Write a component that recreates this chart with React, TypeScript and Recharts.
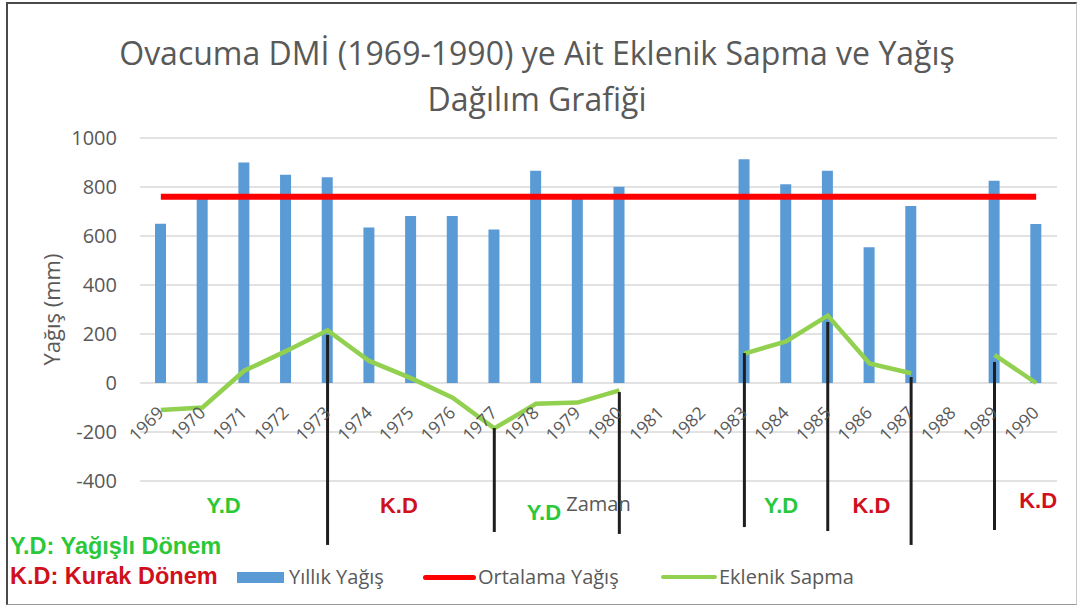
import {
  Bar,
  CartesianGrid,
  ComposedChart,
  Line,
  ReferenceDot,
  ReferenceLine,
  XAxis,
  YAxis,
} from 'recharts';

const YEARS = [
  '1969', '1970', '1971', '1972', '1973', '1974', '1975', '1976', '1977', '1978', '1979',
  '1980', '1981', '1982', '1983', '1984', '1985', '1986', '1987', '1988', '1989', '1990',
];
// Yıllık yağış (mm); boş yıllar çizilmiyor
const ANNUAL_RAIN = [
  650, 752, 900, 850, 840, 635, 682, 682, 627, 866, 753,
  801, null, null, 913, 811, 866, 554, 722, null, 826, 649,
];
const MEAN_RAIN = [
  760, 760, 760, 760, 760, 760, 760, 760, 760, 760, 760,
  760, 760, 760, 760, 760, 760, 760, 760, 760, 760, 760,
];
const CUMULATIVE_DEV = [
  -110, -100, 50, 130, 215, 90, 20, -60, -185, -85, -80,
  -30, null, null, 120, 170, 275, 80, 40, null, 115, 0,
];
const Y_TICKS = [-400, -200, 0, 200, 400, 600, 800, 1000];

// dönem sınırları (siyah çizgiler): yıl, üst ve alt uç
const BREAK_YEARS = ['1973', '1977', '1980', '1983', '1985', '1987', '1989'];
const BREAK_TOPS = [196, -184, -37, 122, 249, 24, 86];
const BREAK_BOTTOMS = [-661, -608, -616, -588, -604, -661, -600];

// dönem etiketleri
const PERIOD_TEXTS = ['Y.D', 'K.D', 'Y.D', 'Y.D', 'K.D', 'K.D'];
const PERIOD_YEARS = ['1970', '1975', '1978', '1984', '1986', '1990'];
const PERIOD_LEVELS = [-498, -498, -527, -498, -498, -478];
const PERIOD_SHIFTS = [21, -12, 8, -5, 2, 2];

const SERIES_NAMES = ['Yıllık Yağış', 'Ortalama Yağış', 'Eklenik Sapma'];

const GREEN_TEXT = '#2bc83a';
const RED_TEXT = '#d0101c';
const AXIS_TEXT = '#595959';
const FONT = '"Open Sans", sans-serif';
const BOLD_FONT = '"Liberation Sans", Arial, sans-serif';

const Y_MIN = -400;
const Y_MAX = 1000;
const PLOT_TOP = 138;
const PLOT_BOTTOM = 481;

const data = YEARS.map((year, i) => ({
  year,
  rain: ANNUAL_RAIN[i],
  mean: MEAN_RAIN[i],
  dev: CUMULATIVE_DEV[i],
}));

/** Year labels sit on the zero line, rotated like the Excel original. */
function YearTick(props: any) {
  const { x, y, payload } = props;
  const plotH = PLOT_BOTTOM - PLOT_TOP;
  const zeroY = y - (plotH * (0 - Y_MIN)) / (Y_MAX - Y_MIN);
  const bx = x + 4;
  const by = zeroY + 31;
  return (
    <text
      x={bx}
      y={by}
      textAnchor="end"
      transform={`rotate(-45 ${bx} ${by})`}
      fontSize={17.5}
      fontFamily={FONT}
      fill={AXIS_TEXT}
    >
      {payload.value}
    </text>
  );
}

function YTitle(props: any) {
  const { viewBox } = props;
  const cx = viewBox.x - 29;
  const cy = viewBox.y + viewBox.height / 2;
  return (
    <text
      x={cx}
      y={cy}
      textAnchor="middle"
      dominantBaseline="central"
      transform={`rotate(-90 ${cx} ${cy})`}
      fontSize={22}
      fontFamily={FONT}
      fill={AXIS_TEXT}
    >
      Yağış (mm)
    </text>
  );
}

function XTitle(props: any) {
  const { viewBox } = props;
  return (
    <text
      x={viewBox.x + viewBox.width / 2}
      y={viewBox.y + 22}
      textAnchor="middle"
      dominantBaseline="central"
      fontSize={20}
      fontFamily={FONT}
      fill={AXIS_TEXT}
    >
      Zaman
    </text>
  );
}

function PeriodText(props: any) {
  const { viewBox, text, color, shift } = props;
  const cx = viewBox.x + (viewBox.width || 0) / 2 + shift;
  const cy = viewBox.y + (viewBox.height || 0) / 2;
  return (
    <text
      x={cx}
      y={cy}
      textAnchor="middle"
      dominantBaseline="central"
      fontSize={22}
      fontWeight="bold"
      fontFamily={BOLD_FONT}
      fill={color}
    >
      {text}
    </text>
  );
}

function LegendRow() {
  const item = { position: 'absolute' as const, top: 563, fontSize: 20, fontFamily: FONT, color: AXIS_TEXT, lineHeight: '27px' };
  return (
    <>
      <div style={{ position: 'absolute', left: 237, top: 572, width: 47, height: 11, background: '#5b9bd5' }} />
      <div style={{ ...item, left: 289 }}>{SERIES_NAMES[0]}</div>
      <div style={{ position: 'absolute', left: 423, top: 575, width: 53, height: 5, background: '#ff0000', borderRadius: 3 }} />
      <div style={{ ...item, left: 478 }}>{SERIES_NAMES[1]}</div>
      <div style={{ position: 'absolute', left: 661, top: 575, width: 56, height: 4, background: '#92d050', borderRadius: 2 }} />
      <div style={{ ...item, left: 719 }}>{SERIES_NAMES[2]}</div>
    </>
  );
}

export default function App() {
  const keyText = { position: 'absolute' as const, left: 10, fontSize: 23.5, fontWeight: 'bold' as const, fontFamily: BOLD_FONT, lineHeight: '27px', whiteSpace: 'nowrap' as const };
  return (
    <div style={{ position: 'relative', width: 1078, height: 605, background: '#fff', overflow: 'hidden' }}>
      <style>{'body{margin:0}'}</style>
      <div
        style={{
          position: 'absolute',
          left: 6,
          top: 2,
          width: 1068,
          height: 600,
          borderTop: '2px solid #4a4a4a',
          borderLeft: '2px solid #4a4a4a',
          borderRight: '1px solid #c8c8c8',
          borderBottom: '1px solid #9a9a9a',
        }}
      />
      <div style={{ position: 'absolute', left: 0, top: 37, width: 1074, textAlign: 'center', fontFamily: FONT, fontSize: 32, lineHeight: '32px', color: AXIS_TEXT }}>
        Ovacuma DMİ (1969-1990) ye Ait Eklenik Sapma ve Yağış
      </div>
      <div style={{ position: 'absolute', left: 0, top: 83, width: 1074, textAlign: 'center', fontFamily: FONT, fontSize: 32, lineHeight: '32px', color: AXIS_TEXT }}>
        Dağılım Grafiği
      </div>
      <div style={{ position: 'absolute', left: 0, top: 0 }}>
        <ComposedChart
          width={1078}
          height={605}
          data={data}
          margin={{ top: PLOT_TOP, right: 21, bottom: 605 - PLOT_BOTTOM - 30, left: 80 }}
        >
          <CartesianGrid vertical={false} stroke="#d9d9d9" strokeWidth={1.3} />
          <XAxis
            dataKey="year"
            interval={0}
            height={30}
            tickSize={0}
            tickMargin={0}
            axisLine={false}
            tickLine={false}
            tick={<YearTick />}
            label={<XTitle />}
          />
          <YAxis
            width={60}
            domain={[Y_MIN, Y_MAX]}
            ticks={Y_TICKS}
            allowDataOverflow
            axisLine={false}
            tickLine={false}
            tickSize={0}
            tickMargin={23}
            tick={{ fontSize: 20, fontFamily: FONT, fill: AXIS_TEXT }}
            label={<YTitle />}
          />
          <Bar dataKey="rain" name={SERIES_NAMES[0]} fill="#5b9bd5" barSize={11} isAnimationActive={false} />
          <Line dataKey="mean" name={SERIES_NAMES[1]} stroke="#ff0000" strokeWidth={6} dot={false} isAnimationActive={false} />
          <Line
            dataKey="dev"
            name={SERIES_NAMES[2]}
            stroke="#92d050"
            strokeWidth={4.5}
            dot={false}
            connectNulls={false}
            isAnimationActive={false}
          />
          {BREAK_YEARS.map((year, i) => (
            <ReferenceLine
              key={`b${year}`}
              segment={[
                { x: year, y: BREAK_TOPS[i] },
                { x: year, y: BREAK_BOTTOMS[i] },
              ]}
              stroke="#1e1e1e"
              strokeWidth={3}
              ifOverflow="visible"
            />
          ))}
          {PERIOD_TEXTS.map((text, i) => (
            <ReferenceDot
              key={`p${i}`}
              x={PERIOD_YEARS[i]}
              y={PERIOD_LEVELS[i]}
              r={0}
              stroke="none"
              fill="none"
              ifOverflow="visible"
              label={<PeriodText text={text} color={text === 'Y.D' ? GREEN_TEXT : RED_TEXT} shift={PERIOD_SHIFTS[i]} />}
            />
          ))}
        </ComposedChart>
      </div>
      <div style={{ ...keyText, top: 533, color: GREEN_TEXT }}>Y.D: Yağışlı Dönem</div>
      <div style={{ ...keyText, top: 563, color: RED_TEXT }}>K.D: Kurak Dönem</div>
      <LegendRow />
    </div>
  );
}
